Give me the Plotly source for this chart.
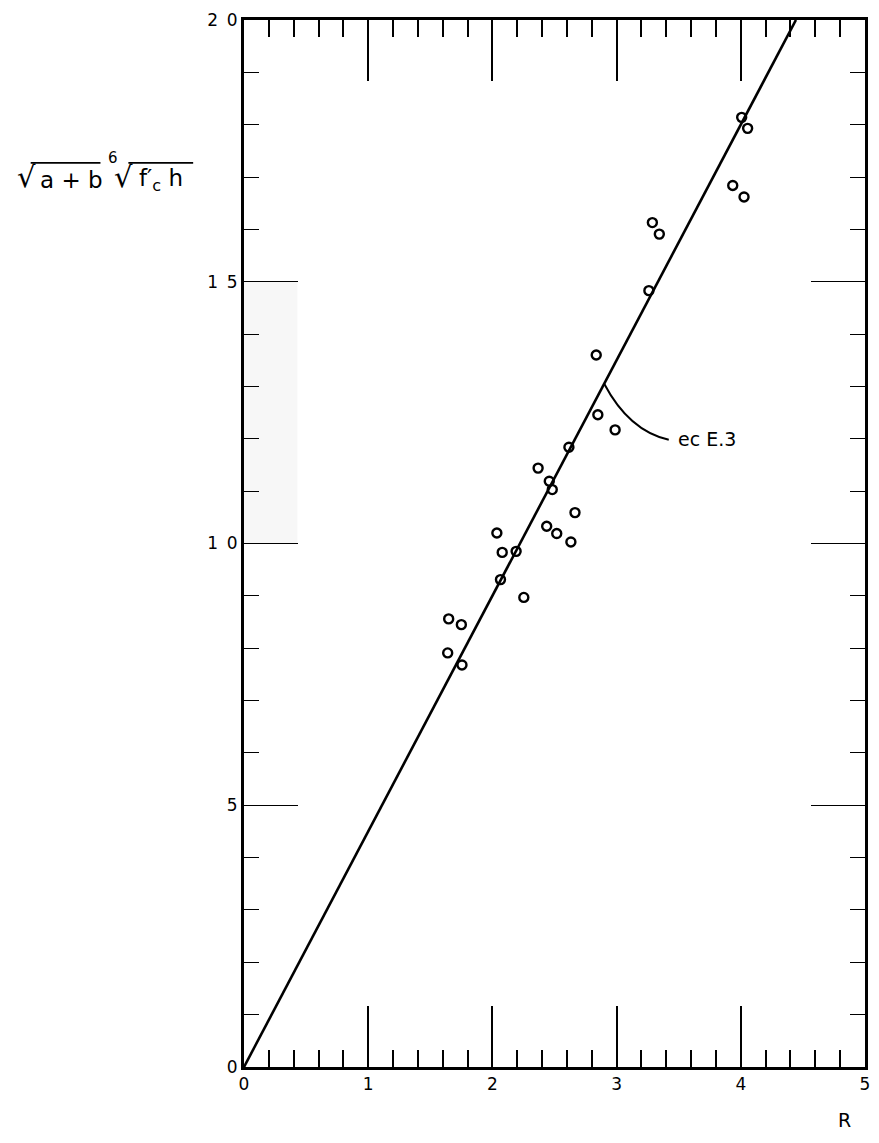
import plotly.graph_objects as go

# Data
R_points = [1.640, 1.648, 1.750, 1.755, 2.036, 2.065, 2.079, 2.191, 2.253,
            2.368, 2.437, 2.458, 2.482, 2.518, 2.616, 2.632, 2.665, 2.836,
            2.849, 2.988, 3.260, 3.288, 3.344, 3.935, 4.007, 4.026, 4.055]
Y_points = [7.91, 8.56, 8.45, 7.68, 10.20, 9.31, 9.83, 9.85, 8.97,
            11.44, 10.33, 11.19, 11.03, 10.19, 11.84, 10.03, 10.59, 13.60,
            12.46, 12.17, 14.83, 16.13, 15.91, 16.84, 18.14, 16.62, 17.93]

# Fitted line (ec E.3), y = 4.5 R
line_R = [0.0, 4.444]
line_Y = [0.0, 20.0]

x_tickvals = [0, 1, 2, 3, 4, 5]
x_ticktext = ["0", "1", "2", "3", "4", "5"]
y_tickvals = [0, 5, 10, 15, 20]
y_ticktext = ["0", "5", "1\u2009 0", "1\u2009 5", "2\u2009 0"]

# annotation leader (start on the line, control, end near text)
lead_start = (2.90, 13.05)
lead_ctrl = (3.10, 12.15)
lead_end = (3.42, 11.98)
label_pos = (3.48, 12.0)

FONT = "DejaVu Sans"

# page-pixel helpers for layout of the y title (plot area: x 243..866, y 19..1067)
def px(X):
    return (X - 243) / 623.0

def py(Y):
    return (1067 - Y) / 1048.0

fig = go.Figure()

fig.add_trace(go.Scatter(x=line_R, y=line_Y, mode="lines",
                         line=dict(color="black", width=2.6),
                         hoverinfo="skip", showlegend=False))
fig.add_trace(go.Scatter(x=R_points, y=Y_points, mode="markers",
                         marker=dict(symbol="circle-open", size=9,
                                     color="black", line=dict(width=2.4)),
                         showlegend=False))

# faint scan band on the left
fig.add_shape(type="rect", xref="x", yref="y", x0=0.0, x1=0.43, y0=10, y1=15,
              fillcolor="#f7f7f7", line=dict(width=0), layer="below")

# curved leader
path = "M {} {} Q {} {} {} {}".format(lead_start[0], lead_start[1],
                                      lead_ctrl[0], lead_ctrl[1],
                                      lead_end[0], lead_end[1])
fig.add_shape(type="path", xref="x", yref="y", path=path,
              line=dict(color="black", width=2))

fig.add_annotation(x=label_pos[0], y=label_pos[1], xref="x", yref="y",
                   text="ec E.3", showarrow=False, xanchor="left",
                   yanchor="middle", font=dict(family=FONT, size=19, color="black"))

# y-axis title (top-left):  sqrt(a+b) * 6th-root(f'c h)
tf = dict(family=FONT, size=23, color="black")
rf = dict(family=FONT, size=29, color="black")
fig.add_annotation(x=px(13), y=py(176), xref="paper", yref="paper", text="\u221a",
                   showarrow=False, xanchor="left", yanchor="middle", font=rf)
fig.add_annotation(x=px(36), y=py(179), xref="paper", yref="paper", text="a + b",
                   showarrow=False, xanchor="left", yanchor="middle", font=tf)
fig.add_annotation(x=px(105), y=py(157), xref="paper", yref="paper", text="6",
                   showarrow=False, xanchor="left", yanchor="middle",
                   font=dict(family=FONT, size=15, color="black"))
fig.add_annotation(x=px(111), y=py(176), xref="paper", yref="paper", text="\u221a",
                   showarrow=False, xanchor="left", yanchor="middle", font=rf)
fig.add_annotation(x=px(136), y=py(179), xref="paper", yref="paper",
                   text="f\u2032<sub>c</sub> h",
                   showarrow=False, xanchor="left", yanchor="middle", font=tf)
for x0, x1 in [(29, 99), (127, 192)]:
    fig.add_shape(type="line", xref="paper", yref="paper",
                  x0=px(x0), x1=px(x1), y0=py(162), y1=py(162),
                  line=dict(color="black", width=1.8))

# x-axis title
fig.add_annotation(x=px(845), y=py(1120), xref="paper", yref="paper",
                   text="R", showarrow=False, xanchor="center", yanchor="middle",
                   font=dict(family=FONT, size=19, color="black"))

axis_common = dict(showgrid=False, zeroline=False, showline=True,
                   linecolor="black", linewidth=3, mirror="allticks",
                   ticks="inside", tickcolor="black", ticklabeloverflow="allow",
                   tickfont=dict(family=FONT, size=17, color="black"))

fig.update_xaxes(range=[0, 5], tickmode="array", tickvals=x_tickvals,
                 ticktext=x_ticktext, ticklen=61, tickwidth=1.5,
                 minor=dict(dtick=0.2, ticklen=17, tickwidth=1.6,
                            tickcolor="black", ticks="inside", showgrid=False),
                 **axis_common)
fig.update_yaxes(range=[0, 20], tickmode="array", tickvals=y_tickvals,
                 ticktext=y_ticktext, ticklen=54, tickwidth=1.2,
                 minor=dict(dtick=1, ticklen=15, tickwidth=1.3,
                            tickcolor="black", ticks="inside", showgrid=False),
                 **axis_common)

# page is drawn with an 8px body margin: compensate
fig.update_layout(width=863, height=1127,
                  margin=dict(l=236, r=1, t=12, b=68),
                  plot_bgcolor="white", paper_bgcolor="white")

fig.write_html("out.html")
